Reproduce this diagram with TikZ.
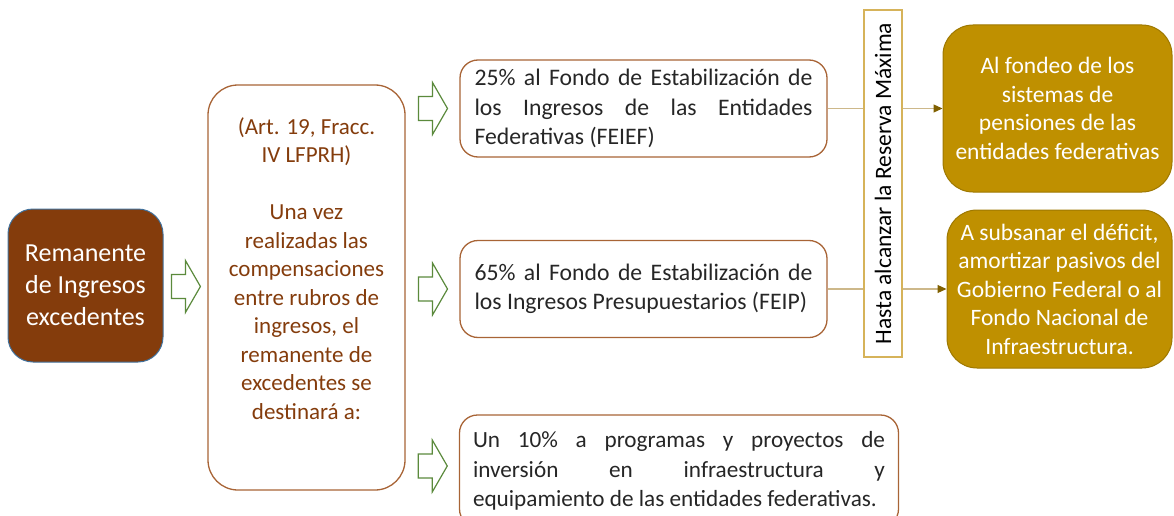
\documentclass[tikz,border=0pt]{standalone}
\usepackage{fontspec}
\setmainfont{Carlito}
\usetikzlibrary{positioning,calc,arrows.meta}
\definecolor{remfill}{HTML}{843C0C}
\definecolor{remedge}{HTML}{41719C}
\definecolor{brownedge}{HTML}{A86436}
\definecolor{browntext}{HTML}{843C0C}
\definecolor{arrowgreen}{HTML}{5B8A3C}
\definecolor{reserveedge}{HTML}{D6B35A}
\definecolor{goldfill}{HTML}{BF9000}
\definecolor{goldedge}{HTML}{9E7800}
\definecolor{tanline}{HTML}{CDB88A}
\definecolor{tipgold}{HTML}{806000}
\tikzset{
  rembox/.style={draw=remedge,fill=remfill,text=white,rounded corners=25pt,line width=1pt,
    minimum width=155pt,minimum height=153pt,align=center,font=\fontsize{26}{32}\selectfont},
  midbox/.style={draw=brownedge,rounded corners=30pt,line width=1.3pt,minimum width=197pt,minimum height=405pt},
  midtext/.style={text=browntext,align=center,inner sep=0pt,font=\fontsize{23}{28.5}\selectfont},
  fondobox/.style={draw=brownedge,rounded corners=18pt,line width=1.3pt,text=black!85,align=justify,
    text width=338pt,inner xsep=14.5pt,minimum height=97pt,font=\fontsize{23.7}{29.5}\selectfont},
  reservabox/.style={draw=reserveedge,line width=1.3pt,rotate=90,minimum width=347pt,minimum height=38pt,
    inner sep=0pt,font=\fontsize{23.5}{26}\selectfont},
  goldbox/.style={draw=goldedge,fill=goldfill,text=white,rounded corners=30pt,line width=1pt,
    align=center,font=\fontsize{23.5}{28.5}\selectfont},
  linkline/.style={draw=tanline,line width=1.2pt},
}
\begin{document}
\begin{tikzpicture}[x=1pt,y=-1pt,
  fatarrow/.pic={\draw[arrowgreen,line width=1.2pt,fill=white] (-14,-12) -- (0,-12) -- (0,-26) -- (15,0) -- (0,26) -- (0,12) -- (-14,12) -- cycle;}]
\useasboundingbox (0,0) rectangle (1174,516);

% first column
\node[rembox] (rem) at (85.5,285.5) {Remanente\\de Ingresos\\excedentes};
\node[midbox] (mid) at (306.5,287.5) {};
\node[midtext,below=33pt of mid.north] (midtxt) {(Art. 19, Fracc.\\IV LFPRH)\\[28.5pt]Una vez\\realizadas las\\compensaciones\\entre rubros de\\ingresos, el\\remanente de\\excedentes se\\destinará a:};

% the three funds
\node[fondobox] (feief) at (643.5,108.5) {25\% al Fondo de Estabilización de\linebreak los Ingresos de las Entidades\linebreak Federativas (FEIEF)};
\node[fondobox] (feip) at (643.5,289) {65\% al Fondo de Estabilización de\linebreak los Ingresos Presupuestarios (FEIP)};
\node[fondobox,text width=412pt,inner xsep=13.5pt,minimum height=112pt,font=\fontsize{23.2}{29.5}\selectfont] (prog) at (679,471) {Un 10\% a programas y proyectos de\linebreak inversión en infraestructura y\linebreak \mbox{equipamiento de las entidades federativas.}};

\node[reservabox] (res) at (883,183.5) {Hasta alcanzar la Reserva Máxima};

% destinations
\node[goldbox,minimum width=229pt,minimum height=167pt] (pens) at (1057.5,108.5) {Al fondeo de los\\sistemas de\\pensiones de las\\entidades federativas};
\node[goldbox,minimum width=225pt,minimum height=158pt] (defi) at (1059.5,289) {A subsanar el déficit,\\amortizar pasivos del\\Gobierno Federal o al\\Fondo Nacional de\\Infraestructura.};

% block arrows
\pic at ($(rem.east)!0.5!(mid.west)$) {fatarrow};
\pic at ($(mid.east |- feief)!0.5!(feief.west)$) {fatarrow};
\pic at ($(mid.east |- feip)!0.5!(feip.west)$) {fatarrow};
\pic at ($(mid.east |- prog)!0.5!(prog.west)+(0,-5)$) {fatarrow};

% links through the reserve
\draw[linkline] (feief.east) -- (feief.east -| res.north);
\draw[linkline,-{Triangle[length=9pt,width=8pt,color=tipgold]}] (feief.east -| res.south) -- (feief.east -| pens.west);
\draw[linkline] (feip.east) -- (feip.east -| res.north);
\draw[linkline,-{Triangle[length=9pt,width=8pt,color=tipgold]}] (feip.east -| res.south) -- (feip.east -| defi.west);
\end{tikzpicture}
\end{document}
